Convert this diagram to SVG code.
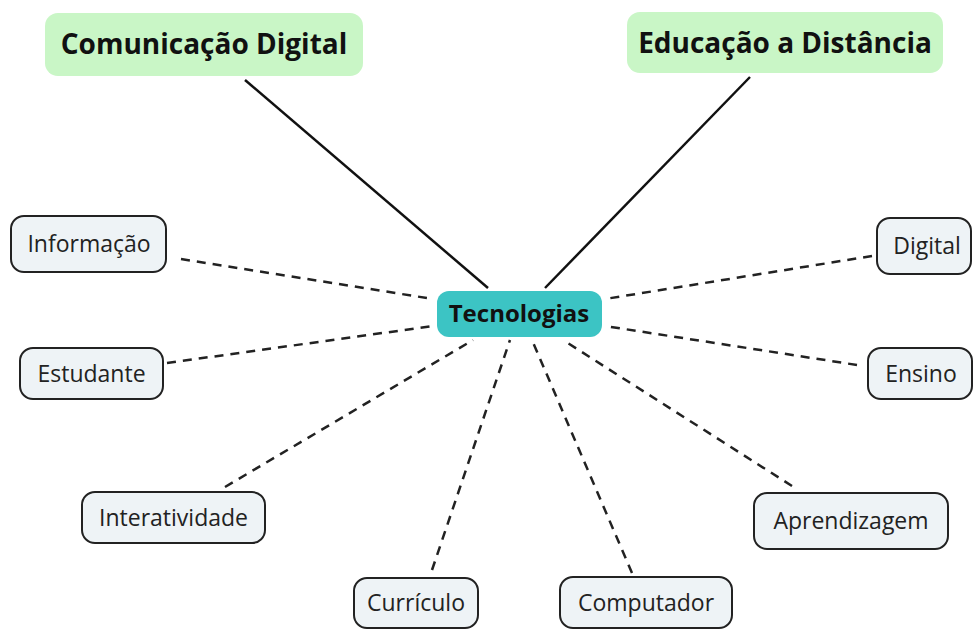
<svg xmlns="http://www.w3.org/2000/svg" width="976" height="631" viewBox="0 0 976 631">
<style>
  .top rect { fill: #c9f6c6; stroke: none; }
  .top text { font-family: "Open Sans", "Liberation Sans", sans-serif; font-weight: bold; font-size: 28px; fill: #111; text-anchor: middle; }
  .center rect { fill: #3cc4c4; stroke: none; }
  .center text { font-family: "Open Sans", "Liberation Sans", sans-serif; font-weight: bold; font-size: 24px; fill: #111; text-anchor: middle; }
  .leaf rect { fill: #eef3f6; stroke: #222; stroke-width: 2; }
  .leaf text { font-family: "Open Sans", "Liberation Sans", sans-serif; font-size: 23px; fill: #222; text-anchor: middle; }
  .solid { stroke: #111; stroke-width: 2.5; fill: none; }
  .dash { stroke: #222; stroke-width: 2.5; fill: none; stroke-dasharray: 9 7; }
</style>
<rect width="976" height="631" fill="#ffffff"/>
<g id="connectors">
  <line class="solid" x1="245" y1="80" x2="488" y2="288"/>
  <line class="solid" x1="750" y1="77" x2="545" y2="288"/>
  <line class="dash" x1="181" y1="259" x2="433" y2="299"/>
  <line class="dash" x1="167" y1="363" x2="433" y2="326"/>
  <line class="dash" x1="225" y1="487" x2="473" y2="340"/>
  <line class="dash" x1="432" y1="570" x2="510" y2="340"/>
  <line class="dash" x1="632" y1="573" x2="532" y2="340"/>
  <line class="dash" x1="792" y1="486" x2="563" y2="340"/>
  <line class="dash" x1="857" y1="365" x2="605" y2="326"/>
  <line class="dash" x1="872" y1="256" x2="605" y2="299"/>
</g>
<g id="node-comunicacao" class="top">
  <rect x="45" y="13" width="318" height="63" rx="13"/>
  <text x="204" y="54">Comunicação Digital</text>
</g>
<g id="node-educacao" class="top">
  <rect x="627" y="12" width="316" height="61" rx="13"/>
  <text x="785" y="53">Educação a Distância</text>
</g>
<g id="node-tecnologias" class="center">
  <rect x="437" y="291" width="165" height="46" rx="12"/>
  <text x="519" y="322">Tecnologias</text>
</g>
<g id="node-informacao" class="leaf">
  <rect x="11" y="216" width="155" height="56" rx="13"/>
  <text x="89" y="252">Informação</text>
</g>
<g id="node-estudante" class="leaf">
  <rect x="20" y="348" width="143" height="51" rx="13"/>
  <text x="91.5" y="382">Estudante</text>
</g>
<g id="node-interatividade" class="leaf">
  <rect x="82" y="492" width="183" height="51" rx="13"/>
  <text x="173.5" y="526">Interatividade</text>
</g>
<g id="node-curriculo" class="leaf">
  <rect x="354" y="578" width="124" height="50" rx="13"/>
  <text x="416" y="611">Currículo</text>
</g>
<g id="node-computador" class="leaf">
  <rect x="560" y="577" width="172" height="51" rx="13"/>
  <text x="646" y="611">Computador</text>
</g>
<g id="node-aprendizagem" class="leaf">
  <rect x="754" y="493" width="194" height="56" rx="13"/>
  <text x="851" y="529">Aprendizagem</text>
</g>
<g id="node-ensino" class="leaf">
  <rect x="868" y="348" width="104" height="51" rx="13"/>
  <text x="921" y="382">Ensino</text>
</g>
<g id="node-digital" class="leaf">
  <rect x="877" y="218" width="94" height="56" rx="13"/>
  <text x="927" y="254">Digital</text>
</g>
</svg>
